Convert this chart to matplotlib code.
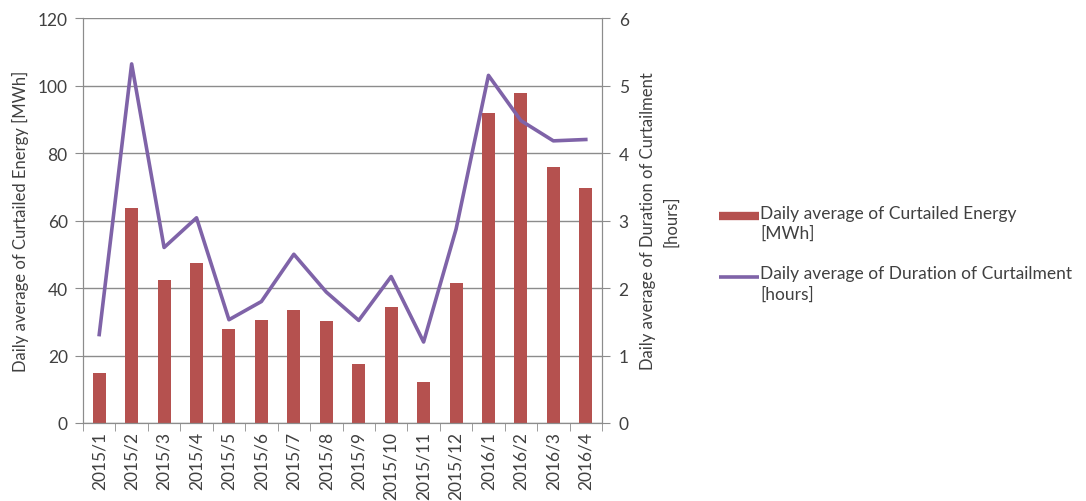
import matplotlib.pyplot as plt
import matplotlib.lines as mlines
from matplotlib.legend_handler import HandlerBase
import numpy as np

months = ["2015/1", "2015/2", "2015/3", "2015/4", "2015/5", "2015/6", "2015/7", "2015/8",
          "2015/9", "2015/10", "2015/11", "2015/12", "2016/1", "2016/2", "2016/3", "2016/4"]
energy_mwh = [14.8, 63.7, 42.4, 47.4, 27.9, 30.4, 33.5, 30.1,
              17.6, 34.4, 12.2, 41.6, 92.0, 97.9, 75.9, 69.7]
duration_hours = [1.31, 5.32, 2.60, 3.04, 1.53, 1.80, 2.50, 1.94,
                  1.52, 2.17, 1.20, 2.87, 5.15, 4.48, 4.18, 4.20]

bar_color = '#B5514F'
line_color = '#7F63A8'
text_color = '#404040'
axis_color = '#8C8C8C'

plt.rcParams['font.family'] = ['Lato', 'DejaVu Sans']
plt.rcParams['font.size'] = 12


# legend handle sitting on the first line of a two-line label (Excel style)
class FirstLineHandler(HandlerBase):
    def create_artists(self, legend, orig_handle, xdescent, ydescent, width, height, fontsize, trans):
        y = height * 0.76 - ydescent
        ln = mlines.Line2D([-xdescent, width - xdescent], [y, y], color=orig_handle.get_color(),
                           lw=orig_handle.get_linewidth(), solid_capstyle='butt', transform=trans)
        return [ln]


fig = plt.figure(figsize=(10.86, 5.02), dpi=100)
ax = fig.add_axes([83 / 1086, 1 - 424 / 502, (602 - 83) / 1086, (424 - 19) / 502])
ax2 = ax.twinx()

x = np.arange(len(months))
ax.bar(x, energy_mwh, width=0.4, color=bar_color, zorder=2)
ax2.plot(x, duration_hours, color=line_color, lw=2.6, zorder=3)

ax.set_xlim(-0.5, len(months) - 0.5)
ax.set_ylim(0, 120)
ax.set_yticks(range(0, 121, 20))
ax2.set_ylim(0, 6)
ax2.set_yticks(range(0, 7))

# gridlines
ax.yaxis.grid(True, color=axis_color, lw=1)
ax.set_axisbelow(True)

# x ticks: labels at centres, tick marks between categories
ax.set_xticks(x)
ax.set_xticklabels(months, rotation=90)
ax.tick_params(axis='x', which='major', length=0, pad=6)
ax.set_xticks(np.arange(-0.5, len(months), 1), minor=True)
ax.tick_params(axis='x', which='minor', length=6, color=axis_color, direction='out')

ax.tick_params(axis='y', length=6, color=axis_color, labelcolor=text_color, pad=5, labelsize=12.5)
ax2.tick_params(axis='y', length=6, color=axis_color, labelcolor=text_color, pad=6, labelsize=12.5)
ax.tick_params(axis='x', labelcolor=text_color, labelsize=12.5)

for a in (ax, ax2):
    a.spines['top'].set_visible(False)
    for s in ('left', 'right', 'bottom'):
        a.spines[s].set_color(axis_color)

ax.set_ylabel('Daily average of Curtailed Energy [MWh]', color=text_color, labelpad=6)
ax2.set_ylabel('Daily average of Duration of Curtailment\n[hours]', color=text_color,
               labelpad=8, linespacing=1.55)

handles = [mlines.Line2D([], [], color=bar_color, lw=6),
           mlines.Line2D([], [], color=line_color, lw=2.6)]
labels = ['Daily average of Curtailed Energy\n[MWh]',
          'Daily average of Duration of Curtailment\n[hours]']
leg = fig.legend(handles, labels, loc='center left', bbox_to_anchor=(703 / 1086, 1 - 254 / 502),
                 frameon=False, handlelength=2.3, handleheight=2.2, handletextpad=0.1,
                 labelspacing=1.4, fontsize=12.5, labelcolor=text_color,
                 handler_map={mlines.Line2D: FirstLineHandler()})
for t in leg.get_texts():
    t.set_linespacing(1.3)

plt.savefig('out.png', dpi=100)
